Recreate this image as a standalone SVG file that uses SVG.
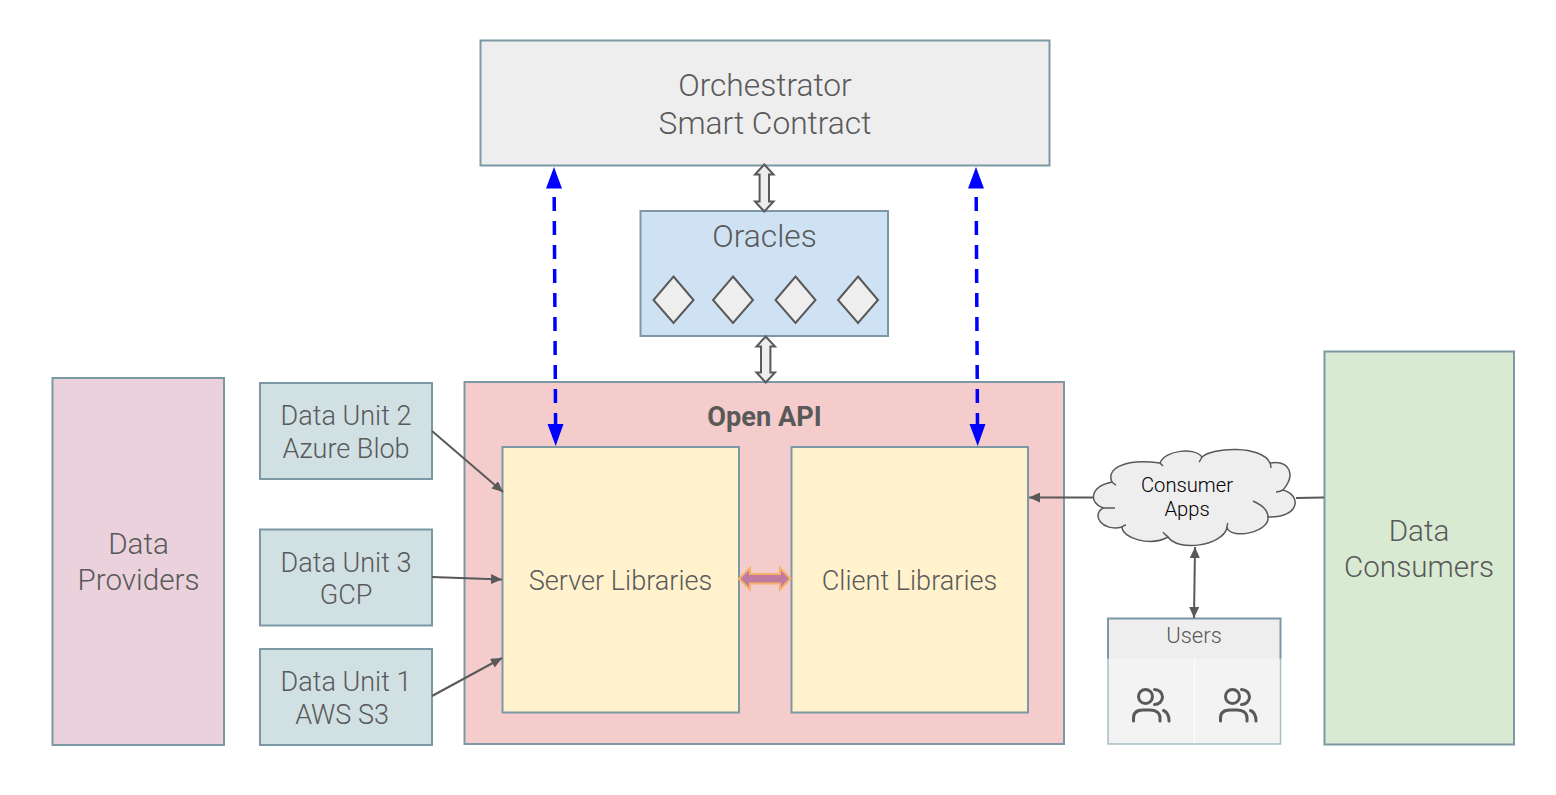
<svg xmlns="http://www.w3.org/2000/svg" width="1556" height="795" viewBox="0 0 1556 795">
<style>
text{font-family:Roboto,"Liberation Sans",sans-serif;font-weight:300;fill:#595959;text-anchor:middle}
.box{stroke:#7d98a5;stroke-width:2}
.t32{font-size:31.700px}.t30{font-size:29.600px}.t27{font-size:27px}
.conn{fill:none;stroke:#595959;stroke-width:2}
.blue{fill:none;stroke:#0000ff;stroke-width:3.500;stroke-dasharray:14 10}
.hollow{fill:#eeeeee;stroke:#595959;stroke-width:2}
.dia{fill:#eeeeee;stroke:#595959;stroke-width:2}
.icon{fill:none;stroke:#595959;stroke-width:3;stroke-linecap:round}
</style>
<defs>
<marker id="ah" markerUnits="userSpaceOnUse" markerWidth="12" markerHeight="10" refX="11" refY="5" orient="auto-start-reverse"><path d="M0,0L11,5L0,10Z" fill="#595959"/></marker>
<g id="ppl"><circle cx="1145.500" cy="696.500" r="7" class="icon"/><path class="icon" d="M1154.500,689.500A8,7.500 0 0 1 1154.500,704.500M1133.500,721V718C1133.500,712 1138,710 1143,710H1150C1155,710 1160,712 1160,718V721M1163.500,710.500C1167,712 1169,715 1169,721"/></g>
</defs>
<rect width="1556" height="795" fill="#ffffff"/>
<g id="orchestrator"><rect class="box" x="480.500" y="40.500" width="569" height="125" fill="#eeeeee"/><text class="t32" x="765" y="95.500">Orchestrator</text><text class="t32" x="765" y="133.500">Smart Contract</text></g>
<g id="oracles"><rect class="box" x="640.500" y="211" width="247.500" height="125" fill="#cfe2f3"/><text class="t32" x="764.500" y="247">Oracles</text>
<path class="dia" d="M673.500,276.500L693.500,300L673.500,323L653.500,300Z"/>
<path class="dia" d="M733,276.500L753,300L733,323L713,300Z"/>
<path class="dia" d="M795.500,276.500L815.500,300L795.500,323L775.500,300Z"/>
<path class="dia" d="M858,276.500L878,300L858,323L838,300Z"/></g>
<g id="data-providers"><rect class="box" x="52.500" y="378" width="171.500" height="367" fill="#ead1dc"/><text class="t30" x="138.500" y="554">Data</text><text class="t30" x="138.500" y="590">Providers</text></g>
<g id="data-unit-2"><rect class="box" x="260" y="383" width="172" height="96" fill="#d0e0e3"/><text class="t27" x="346" y="424.700">Data Unit 2</text><text class="t27" x="346" y="457.700">Azure Blob</text></g>
<g id="data-unit-3"><rect class="box" x="260" y="529.500" width="172" height="96" fill="#d0e0e3"/><text class="t27" x="346" y="571.500">Data Unit 3</text><text class="t27" x="346" y="603.700">GCP</text></g>
<g id="data-unit-1"><rect class="box" x="260" y="649" width="172" height="96" fill="#d0e0e3"/><text class="t27" x="346" y="690.700">Data Unit 1</text><text class="t27" x="342" y="723.700">AWS S3</text></g>
<g id="open-api"><rect class="box" x="464.500" y="382" width="599.500" height="362" fill="#f4cccc"/><text x="764.500" y="426" style="font-size:27.200px;font-weight:700">Open API</text></g>
<g id="server-libraries"><rect class="box" x="502.500" y="447" width="236.500" height="265.500" fill="#fff2cc"/><text class="t27" x="620.500" y="590" style="font-size:27.100px">Server Libraries</text></g>
<g id="client-libraries"><rect class="box" x="791.500" y="447" width="236.500" height="265.500" fill="#fff2cc"/><text class="t27" x="909.500" y="590" style="font-size:27.100px">Client Libraries</text></g>
<g id="data-consumers"><rect class="box" x="1324.500" y="351.500" width="189.500" height="393" fill="#d9ead3"/><text class="t30" x="1419" y="541">Data</text><text class="t30" x="1419" y="577">Consumers</text></g>
<g id="consumer-apps">
<path d="M1112,482C1106,470 1122,458 1160,463C1165,450 1195,447 1202,457C1212,447 1262,445 1270,463C1290,460 1296,475 1283,490C1302,495 1300,518 1268,517C1270,532 1232,540 1227,528C1222,546 1178,552 1168,537C1150,547 1122,538 1122,527C1102,532 1091,515 1103,508C1089,503 1089,487 1112,482Z" fill="#eeeeee" stroke="#595959" stroke-width="1.500"/>
<path d="M1112,482C1113,483 1114,484 1116,485M1160,463C1161,464 1162,465 1163,466M1202,457C1201,459 1200,461 1199,462M1270,463C1271,465 1271,467 1271,468M1283,490C1281,491 1279,492 1276,492M1253,501C1262,505 1268,511 1268,517M1227,528C1227,526 1227,524 1228,523M1168,537C1166,535 1164,534 1163,532M1122,527C1123,526 1124,525 1126,525M1103,508C1107,508 1111,508 1115,508" fill="none" stroke="#595959" stroke-width="1.500"/>
<text x="1187" y="492" style="font-size:20.200px;fill:#000000">Consumer</text><text x="1187" y="516" style="font-size:20.200px;fill:#000000">Apps</text></g>
<g id="users">
<rect x="1108" y="658" width="86" height="86" fill="#f3f3f3"/><rect x="1195" y="658" width="85.500" height="86" fill="#f3f3f3"/>
<rect x="1108" y="618.500" width="172.500" height="40" fill="#eeeeee"/>
<path d="M1108,659V618.500H1280.500V659" fill="none" stroke="#7d98a5" stroke-width="2"/>
<path d="M1108,658V744H1280.500V658" fill="none" stroke="#a9bcc5" stroke-width="1.500"/>
<text x="1194" y="643" style="font-size:22px">Users</text>
<use href="#ppl"/><use href="#ppl" x="87"/></g>
<g id="connectors">
<path class="conn" marker-end="url(#ah)" d="M432,431L503,492"/>
<path class="conn" marker-end="url(#ah)" d="M432,577L502,579.500"/>
<path class="conn" marker-end="url(#ah)" d="M432,696L502,658"/>
<path class="conn" marker-end="url(#ah)" d="M1094,497.500H1029"/>
<path class="conn" d="M1296,498L1324,497.500"/>
<path class="conn" marker-start="url(#ah)" marker-end="url(#ah)" d="M1195,547L1194,618"/>
<path class="blue" d="M554.200,197L555.600,428"/>
<path fill="#0000ff" d="M554,167L562,188.500H546ZM555.700,446L547.500,424H563.500Z"/>
<path class="blue" d="M976.200,197L977.500,428"/>
<path fill="#0000ff" d="M976,167L984,188.500H968ZM977.700,446L969.500,424H985.500Z"/>
<path class="hollow" d="M764.300,164.500L773.500,174.500H769V201.500H773.500L764.300,211.500L755,201.500H759.600V174.500H755Z"/>
<path class="hollow" d="M765.700,336.500L775,346.500H770.400V372.500H775L765.700,382.500L756.500,372.500H761V346.500H756.500Z"/>
<path d="M739,578.700L750,568V574H780V568L790.500,578.700L780,589.500V583.500H750V589.500Z" fill="#c27ba0" stroke="#f6b26b" stroke-width="2"/>
</g>
</svg>
